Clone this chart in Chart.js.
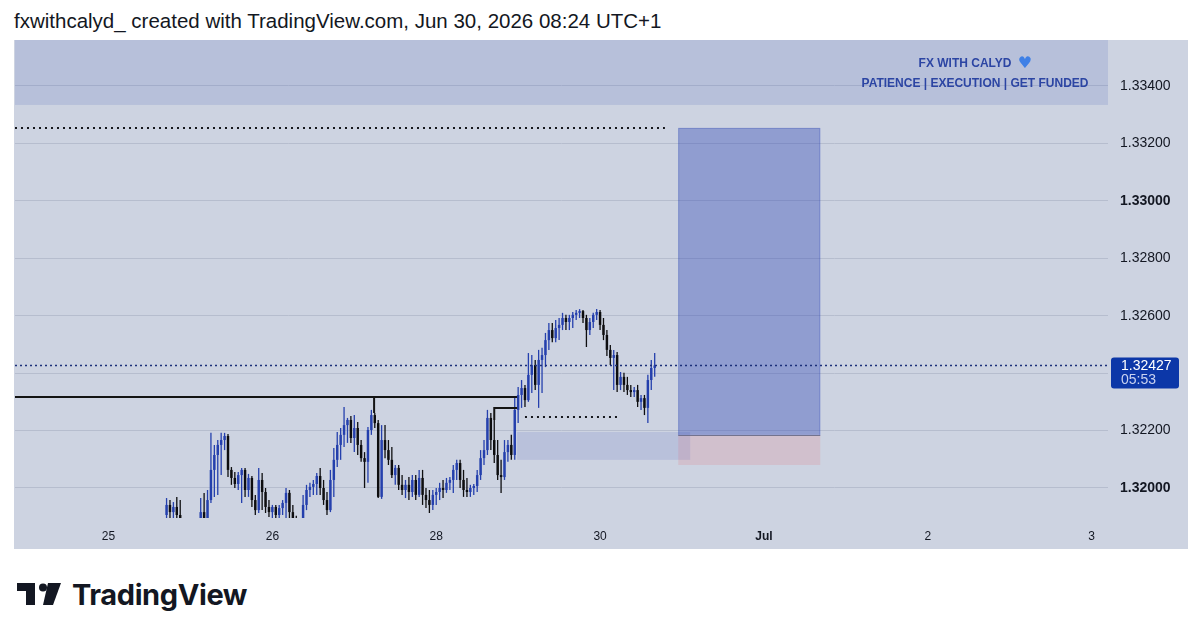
<!DOCTYPE html>
<html>
<head>
<meta charset="utf-8">
<script src="https://cdn.jsdelivr.net/npm/chart.js@4.4.1/dist/chart.umd.min.js"></script>
<style>
    html, body { margin: 0; padding: 0; background: #fff; }
    body { width: 1200px; height: 638px; position: relative; overflow: hidden; font-family: "Liberation Sans", Arial, sans-serif; }
    .titulo { position: absolute; left: 14px; top: 9px; font-size: 20.5px; color: #131722; white-space: nowrap; }
    .panel { position: absolute; left: 14px; top: 40px; width: 1174px; height: 509px; background: #cdd3e1; }
    .logo { position: absolute; left: 17px; top: 578px; height: 32px; display: flex; align-items: center; }
    .logo span { font-family: Inter, "Liberation Sans", sans-serif; font-weight: 700; font-size: 29px; color: #131722; margin-left: 11px; letter-spacing: -0.4px; }
</style>
</head>
<body>
<div class="titulo">fxwithcalyd_ created with TradingView.com, Jun 30, 2026 08:24 UTC+1</div>
<div class="panel"><canvas id="grafico" width="1174" height="509"></canvas></div>
<div class="logo">
    <svg width="44" height="24" viewBox="0 0 44 24">
        <polygon points="0,1 18,1 18,23 9,23 9,9 0,9" fill="#131722"/>
        <circle cx="26" cy="5.5" r="4" fill="#131722"/>
        <polygon points="31,1 44,1 36,23 26,23" fill="#131722"/>
    </svg>
    <span>TradingView</span>
</div>
<script>
// --- DATOS (velas de 30 min) ---
const opens = [
    1.31906, 1.31941, 1.31916, 1.31934, 1.31906, 1.31871, 1.31854, 1.31836, 1.31847, 1.31861,
    1.31875, 1.31916, 1.31895, 1.31958, 1.32063, 1.32115, 1.32150, 1.32167, 1.32181, 1.32063,
    1.32035, 1.32014, 1.32045, 1.32063, 1.31993, 1.32035, 1.31958, 1.31923, 1.32028, 1.31986,
    1.31934, 1.31916, 1.31934, 1.31906, 1.31930, 1.31948, 1.31983, 1.31916, 1.31889, 1.31861,
    1.31882, 1.31941, 1.31993, 1.32004, 1.32014, 1.32042, 1.32000, 1.31958, 1.31923, 1.32028,
    1.32098, 1.32150, 1.32185, 1.32219, 1.32237, 1.32174, 1.32209, 1.32150, 1.32104, 1.32091,
    1.32202, 1.32254, 1.32226, 1.31969, 1.32167, 1.32132, 1.32098, 1.32045, 1.32070, 1.32011,
    1.31993, 1.32011, 1.31986, 1.32028, 1.31976, 1.32035, 1.31976, 1.31958, 1.31941, 1.31976,
    1.31986, 1.32000, 1.31993, 1.32018, 1.32028, 1.32063, 1.32087, 1.32028, 1.31993, 1.31986,
    1.32000, 1.32007, 1.32045, 1.32104, 1.32132, 1.32244, 1.32167, 1.32115, 1.32045, 1.32038,
    1.32125, 1.32150, 1.32115, 1.32272, 1.32324, 1.32348, 1.32306, 1.32394, 1.32428, 1.32359,
    1.32446, 1.32463, 1.32515, 1.32550, 1.32522, 1.32557, 1.32568, 1.32592, 1.32578, 1.32592,
    1.32603, 1.32610, 1.32616, 1.32592, 1.32550, 1.32578, 1.32603, 1.32613, 1.32568, 1.32533,
    1.32481, 1.32453, 1.32463, 1.32359, 1.32387, 1.32359, 1.32341, 1.32334, 1.32341, 1.32300,
    1.32313, 1.32279, 1.32376, 1.32418
];
const highs = [
    1.31965, 1.31958, 1.31951, 1.31969, 1.31958, 1.31885, 1.31875, 1.31861, 1.31875, 1.31889,
    1.31965, 1.31983, 1.31993, 1.32192, 1.32150, 1.32167, 1.32192, 1.32192, 1.32188, 1.32073,
    1.32056, 1.32056, 1.32070, 1.32070, 1.32049, 1.32042, 1.31976, 1.32070, 1.32052, 1.32000,
    1.31958, 1.31941, 1.31941, 1.31941, 1.31958, 1.32000, 1.31993, 1.31941, 1.31903, 1.31895,
    1.31976, 1.32011, 1.32018, 1.32028, 1.32052, 1.32070, 1.32028, 1.31986, 1.32063, 1.32139,
    1.32195, 1.32209, 1.32282, 1.32244, 1.32251, 1.32254, 1.32230, 1.32167, 1.32125, 1.32212,
    1.32272, 1.32261, 1.32237, 1.32219, 1.32219, 1.32167, 1.32143, 1.32080, 1.32080, 1.32045,
    1.32028, 1.32038, 1.32045, 1.32045, 1.32063, 1.32063, 1.32000, 1.31993, 1.31993, 1.32000,
    1.32018, 1.32028, 1.32035, 1.32038, 1.32080, 1.32098, 1.32098, 1.32063, 1.32035, 1.32011,
    1.32014, 1.32063, 1.32132, 1.32167, 1.32272, 1.32261, 1.32237, 1.32167, 1.32098, 1.32167,
    1.32167, 1.32185, 1.32317, 1.32352, 1.32376, 1.32359, 1.32470, 1.32463, 1.32446, 1.32481,
    1.32488, 1.32540, 1.32575, 1.32575, 1.32585, 1.32592, 1.32610, 1.32603, 1.32603, 1.32613,
    1.32620, 1.32623, 1.32620, 1.32603, 1.32592, 1.32610, 1.32623, 1.32620, 1.32592, 1.32550,
    1.32498, 1.32481, 1.32474, 1.32404, 1.32401, 1.32387, 1.32359, 1.32352, 1.32359, 1.32324,
    1.32324, 1.32394, 1.32446, 1.32470
];
const lows = [
    1.31882, 1.31889, 1.31895, 1.31871, 1.31854, 1.31836, 1.31819, 1.31812, 1.31826, 1.31840,
    1.31847, 1.31871, 1.31878, 1.31948, 1.31969, 1.31976, 1.32045, 1.32132, 1.32038, 1.32011,
    1.32000, 1.31993, 1.31948, 1.31969, 1.31969, 1.31934, 1.31906, 1.31913, 1.31923, 1.31913,
    1.31899, 1.31895, 1.31889, 1.31889, 1.31906, 1.31895, 1.31889, 1.31871, 1.31843, 1.31836,
    1.31864, 1.31923, 1.31969, 1.31976, 1.31976, 1.31976, 1.31941, 1.31906, 1.31916, 1.31969,
    1.32073, 1.32098, 1.32143, 1.32157, 1.32157, 1.32125, 1.32115, 1.32091, 1.32000, 1.32018,
    1.32185, 1.32209, 1.31965, 1.31962, 1.32104, 1.32080, 1.32035, 1.32011, 1.31993, 1.31976,
    1.31965, 1.31958, 1.31969, 1.31958, 1.31969, 1.31941, 1.31930, 1.31913, 1.31923, 1.31941,
    1.31958, 1.31965, 1.31983, 1.31993, 1.31983, 1.32028, 1.32000, 1.31969, 1.31969, 1.31969,
    1.31976, 1.31986, 1.32028, 1.32080, 1.32115, 1.32132, 1.32087, 1.32028, 1.31983, 1.32028,
    1.32091, 1.32098, 1.32098, 1.32226, 1.32279, 1.32282, 1.32300, 1.32331, 1.32341, 1.32279,
    1.32331, 1.32421, 1.32481, 1.32508, 1.32508, 1.32515, 1.32550, 1.32550, 1.32550, 1.32557,
    1.32585, 1.32592, 1.32575, 1.32491, 1.32533, 1.32557, 1.32585, 1.32550, 1.32515, 1.32460,
    1.32428, 1.32341, 1.32334, 1.32341, 1.32334, 1.32324, 1.32317, 1.32317, 1.32282, 1.32272,
    1.32254, 1.32226, 1.32341, 1.32387
];
const closes = [
    1.31941, 1.31916, 1.31934, 1.31906, 1.31871, 1.31854, 1.31836, 1.31847, 1.31861, 1.31875,
    1.31916, 1.31895, 1.31958, 1.32063, 1.32115, 1.32150, 1.32167, 1.32181, 1.32063, 1.32035,
    1.32014, 1.32045, 1.32063, 1.31993, 1.32035, 1.31958, 1.31923, 1.32028, 1.31986, 1.31934,
    1.31916, 1.31934, 1.31906, 1.31930, 1.31948, 1.31983, 1.31916, 1.31889, 1.31861, 1.31882,
    1.31941, 1.31993, 1.32004, 1.32014, 1.32042, 1.32000, 1.31958, 1.31923, 1.32028, 1.32098,
    1.32150, 1.32185, 1.32219, 1.32237, 1.32174, 1.32209, 1.32150, 1.32104, 1.32091, 1.32202,
    1.32254, 1.32226, 1.31969, 1.32167, 1.32132, 1.32098, 1.32045, 1.32070, 1.32011, 1.31993,
    1.32011, 1.31986, 1.32028, 1.31976, 1.32035, 1.31976, 1.31958, 1.31941, 1.31976, 1.31986,
    1.32000, 1.31993, 1.32018, 1.32028, 1.32063, 1.32087, 1.32028, 1.31993, 1.31986, 1.32000,
    1.32007, 1.32045, 1.32104, 1.32132, 1.32244, 1.32167, 1.32115, 1.32045, 1.32038, 1.32125,
    1.32150, 1.32115, 1.32272, 1.32324, 1.32348, 1.32306, 1.32394, 1.32428, 1.32359, 1.32446,
    1.32463, 1.32515, 1.32550, 1.32522, 1.32557, 1.32568, 1.32592, 1.32578, 1.32592, 1.32603,
    1.32610, 1.32616, 1.32592, 1.32550, 1.32578, 1.32603, 1.32613, 1.32568, 1.32533, 1.32481,
    1.32453, 1.32463, 1.32359, 1.32387, 1.32359, 1.32341, 1.32334, 1.32341, 1.32300, 1.32313,
    1.32279, 1.32376, 1.32418, 1.32427
];

// ejes
const xTickSlots = [-17, 31, 79, 127, 175, 223, 271];
const xTickLabels = ["25", "26", "28", "30", "Jul", "2", "3"];
const yTicks = [1.320, 1.322, 1.324, 1.326, 1.328, 1.330, 1.332, 1.334];
const yBold = [1.320, 1.330];
const yMin = 1.318955, yMax = 1.335602;

// dibujos (precios)
const objetivo = 1.33254;      // take profit / linea punteada arriba
const entrada = 1.32185;
const stop = 1.32080;
const zonaAlta = 1.32195, zonaBaja = 1.32098;
const nivelRoto = 1.32317, nivelRoto2 = 1.32279;
const liquidez = 1.32247;
const bandaInferior = 1.33334;
const precioActual = closes[closes.length - 1];

// dibujos (posicion en velas)
const posicionX = [149.9, 191.5];
const zonaX = [102.7, 153.4];
const objetivoFin = 146;
const liquidezX = [105, 132];
const nivelX = [60.8, 102.7];
const nivel2X = [96, 102.7];

const azul = "#2540ad";
const negro = "#0e0e10";
const colorVela = (c) => closes[c.dataIndex] >= opens[c.dataIndex] ? azul : negro;
const slots = opens.map((_, i) => i);

const dibujos = {
    id: "dibujos",
    beforeDatasetsDraw(chart) {
        const { ctx, chartArea: a, scales: { x, y } } = chart;
        ctx.save();
        ctx.beginPath();
        ctx.rect(a.left, a.top, a.right - a.left, a.bottom - a.top);
        ctx.clip();

        // banda de arriba
        ctx.fillStyle = "rgba(41,66,178,0.13)";
        ctx.fillRect(a.left, a.top, a.right - a.left, y.getPixelForValue(bandaInferior) - a.top);

        // zona azul clara
        const zx1 = x.getPixelForValue(zonaX[0]), zx2 = x.getPixelForValue(zonaX[1]);
        ctx.fillStyle = "rgba(41,66,178,0.12)";
        ctx.fillRect(zx1, y.getPixelForValue(zonaAlta), zx2 - zx1, y.getPixelForValue(zonaBaja) - y.getPixelForValue(zonaAlta));

        // posicion larga
        const px1 = x.getPixelForValue(posicionX[0]), px2 = x.getPixelForValue(posicionX[1]);
        const yObj = y.getPixelForValue(objetivo), yEnt = y.getPixelForValue(entrada), yStop = y.getPixelForValue(stop);
        ctx.fillStyle = "rgba(41,66,178,0.37)";
        ctx.fillRect(px1, yObj, px2 - px1, yEnt - yObj);
        ctx.strokeStyle = "rgba(41,66,178,0.25)";
        ctx.lineWidth = 1;
        ctx.strokeRect(px1 + 0.5, yObj + 0.5, px2 - px1 - 1, yEnt - yObj);
        ctx.fillStyle = "rgba(242,54,69,0.12)";
        ctx.fillRect(px1, yEnt, px2 - px1, yStop - yEnt);
        ctx.strokeStyle = "rgba(90,95,120,0.7)";
        ctx.beginPath();
        ctx.moveTo(px1, Math.round(yEnt) + 0.5);
        ctx.lineTo(px2, Math.round(yEnt) + 0.5);
        ctx.stroke();
        ctx.restore();
    },
    afterDatasetsDraw(chart) {
        const { ctx, chartArea: a, scales: { x, y } } = chart;
        ctx.save();
        ctx.beginPath();
        ctx.rect(a.left, a.top, a.right - a.left, a.bottom - a.top);
        ctx.clip();

        // lineas punteadas
        ctx.lineWidth = 2;
        ctx.strokeStyle = "#15171c";
        ctx.setLineDash([2, 4]);
        ctx.beginPath();
        ctx.moveTo(a.left, y.getPixelForValue(objetivo));
        ctx.lineTo(x.getPixelForValue(objetivoFin), y.getPixelForValue(objetivo));
        ctx.moveTo(x.getPixelForValue(liquidezX[0]), y.getPixelForValue(liquidez));
        ctx.lineTo(x.getPixelForValue(liquidezX[1]), y.getPixelForValue(liquidez));
        ctx.stroke();

        ctx.lineWidth = 1.5;
        ctx.strokeStyle = "#1b2f7a";
        ctx.setLineDash([2, 3]);
        ctx.beginPath();
        ctx.moveTo(a.left, y.getPixelForValue(precioActual));
        ctx.lineTo(a.right, y.getPixelForValue(precioActual));
        ctx.stroke();

        // niveles rotos
        ctx.setLineDash([]);
        ctx.lineWidth = 2;
        ctx.strokeStyle = "#141414";
        ctx.beginPath();
        ctx.moveTo(a.left, y.getPixelForValue(nivelRoto));
        ctx.lineTo(x.getPixelForValue(nivelX[1]), y.getPixelForValue(nivelRoto));
        ctx.moveTo(x.getPixelForValue(nivelX[0]), y.getPixelForValue(nivelRoto));
        ctx.lineTo(x.getPixelForValue(nivelX[0]), y.getPixelForValue(highs[61]));
        ctx.moveTo(x.getPixelForValue(nivel2X[0]), y.getPixelForValue(highs[96]));
        ctx.lineTo(x.getPixelForValue(nivel2X[0]), y.getPixelForValue(nivelRoto2));
        ctx.lineTo(x.getPixelForValue(nivel2X[1]), y.getPixelForValue(nivelRoto2));
        ctx.stroke();

        // texto de la banda
        ctx.fillStyle = "#2c45a3";
        ctx.textAlign = "center";
        ctx.textBaseline = "middle";
        ctx.font = "bold 12px 'Liberation Sans', Arial, sans-serif";
        ctx.fillText("FX WITH CALYD", a.right - 143, 24);
        ctx.fillStyle = "#3f80e6";
        ctx.font = "16px 'DejaVu Sans', sans-serif";
        ctx.fillText("\u2665", a.right - 83, 24);
        ctx.fillStyle = "#2c45a3";
        ctx.font = "bold 12px 'Liberation Sans', Arial, sans-serif";
        ctx.fillText("PATIENCE | EXECUTION | GET FUNDED", a.right - 133, 44);
        ctx.restore();
    },
    afterDraw(chart) {
        const { ctx, scales: { y } } = chart;
        const py = y.getPixelForValue(precioActual);
        ctx.save();
        ctx.fillStyle = "#0c37a8";
        ctx.beginPath();
        ctx.roundRect(y.left + 3, py - 8, 68, 31, 3);
        ctx.fill();
        ctx.textAlign = "left";
        ctx.textBaseline = "middle";
        ctx.fillStyle = "#ffffff";
        ctx.font = "14px 'Liberation Sans', Arial, sans-serif";
        ctx.fillText(precioActual.toFixed(5), y.left + 13, py + 0.5);
        ctx.fillStyle = "#c9d2f0";
        ctx.fillText("05:53", y.left + 13, py + 14.5);
        ctx.restore();
    }
};

new Chart(document.getElementById("grafico"), {
    type: "bar",
    data: {
        datasets: [
            {
                label: "mechas",
                data: slots.map(i => ({ x: i, y: [lows[i], highs[i]] })),
                backgroundColor: colorVela,
                maxBarThickness: 1.3,
                grouped: false,
                borderWidth: 0
            },
            {
                label: "cuerpos",
                data: slots.map(i => ({ x: i, y: [opens[i], closes[i]] })),
                backgroundColor: colorVela,
                maxBarThickness: 3,
                minBarLength: 1,
                grouped: false,
                borderWidth: 0
            }
        ]
    },
    options: {
        responsive: false,
        animation: false,
        events: [],
        layout: { padding: { left: 1 } },
        plugins: {
            legend: { display: false },
            tooltip: { enabled: false }
        },
        scales: {
            x: {
                type: "linear",
                offset: false,
                min: -44.4,
                max: 275.8,
                grid: { display: false, drawTicks: false },
                border: { display: false },
                afterBuildTicks: (s) => { s.ticks = xTickSlots.map(v => ({ value: v })); },
                afterFit: (s) => { s.height = 31; s.paddingLeft = 0; s.paddingRight = 0; },
                ticks: {
                    autoSkip: false,
                    maxRotation: 0,
                    padding: 11,
                    color: "#131722",
                    font: (c) => ({ family: "'Liberation Sans', Arial, sans-serif", size: 12, weight: xTickLabels[c.index] === "Jul" ? "bold" : "normal" }),
                    callback: (v, i) => xTickLabels[i]
                }
            },
            y: {
                position: "right",
                min: yMin,
                max: yMax,
                grid: { color: "#b6bdce", drawTicks: false },
                border: { display: false },
                afterBuildTicks: (s) => { s.ticks = yTicks.map(v => ({ value: v })); },
                afterFit: (s) => { s.width = 80; s.paddingTop = 0; s.paddingBottom = 0; },
                ticks: {
                    padding: 12,
                    color: "#131722",
                    font: (c) => ({
                        family: "'Liberation Sans', Arial, sans-serif",
                        size: 14,
                        weight: c.tick && yBold.some(b => Math.abs(b - c.tick.value) < 1e-9) ? "bold" : "normal"
                    }),
                    callback: (v) => Math.abs(v - precioActual) < 0.0005 ? "" : v.toFixed(5)
                }
            }
        }
    },
    plugins: [dibujos]
});
</script>
</body>
</html>
